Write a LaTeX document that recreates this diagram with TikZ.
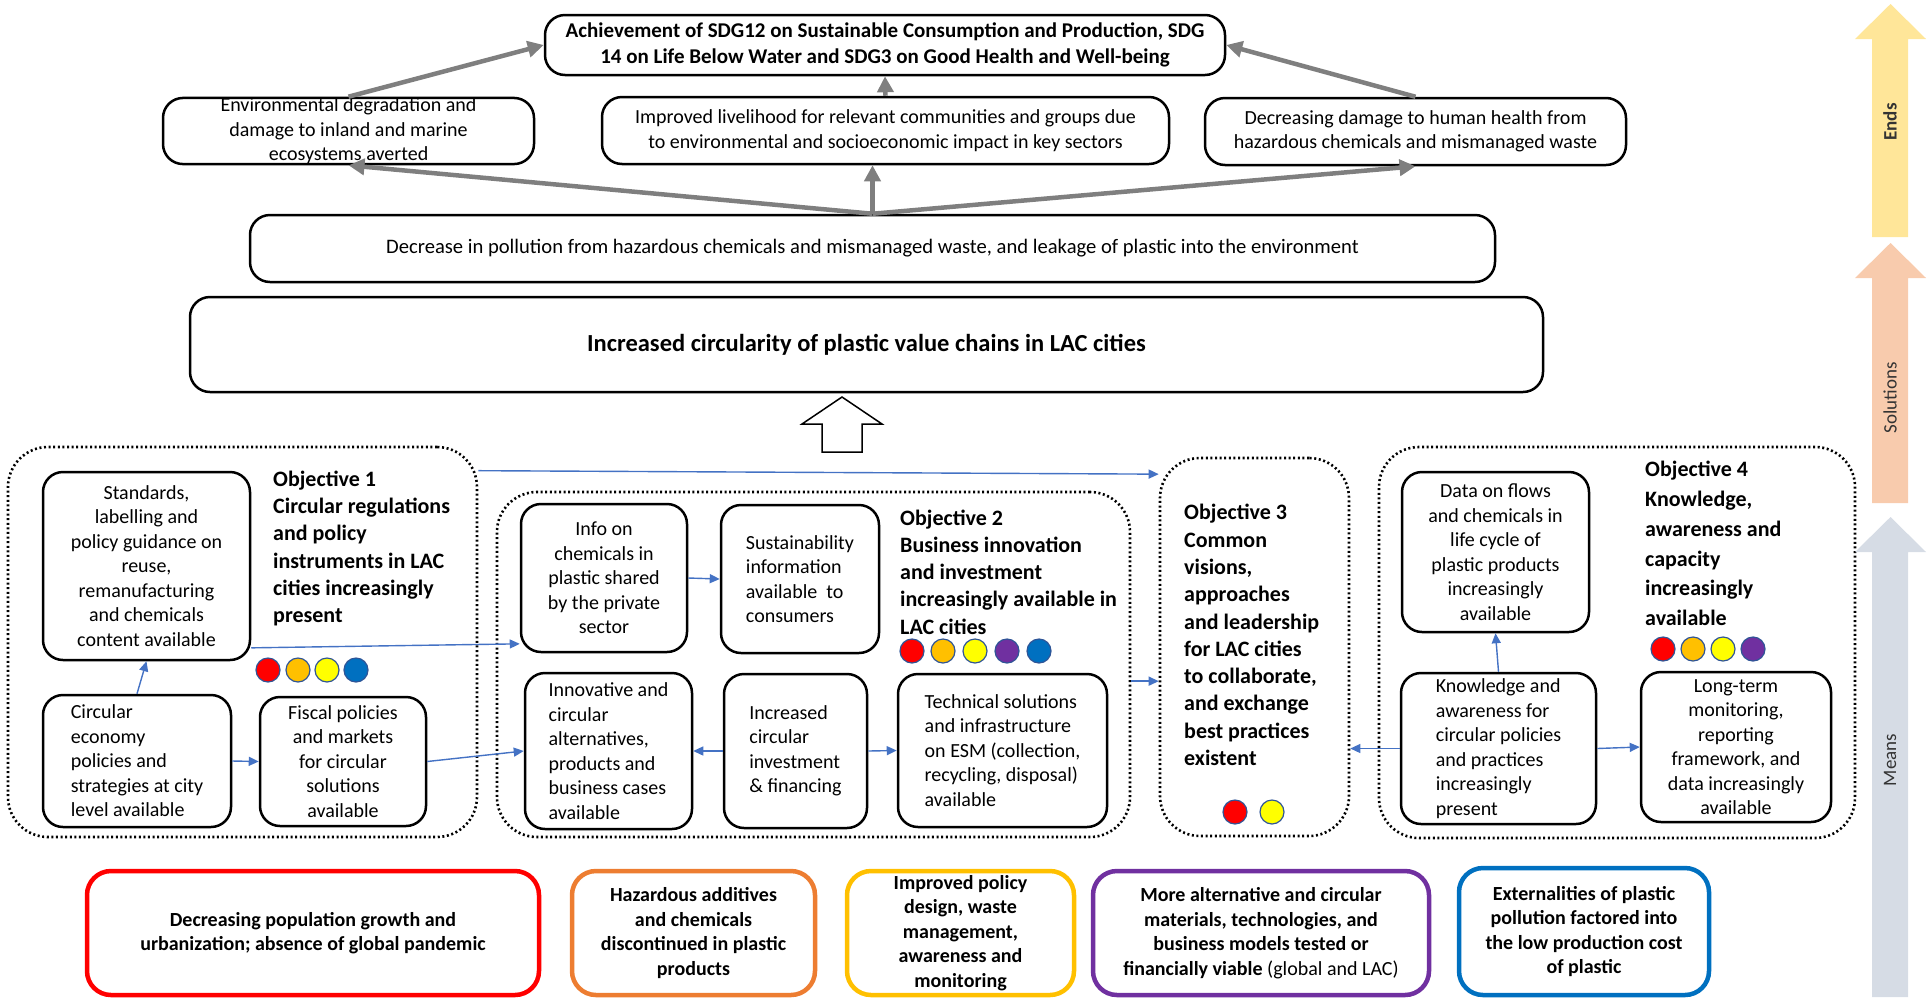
\documentclass[tikz,border=0pt]{standalone}
\usepackage{fontspec}
\setmainfont{Carlito}
\usepackage{tikz}
\usetikzlibrary{arrows.meta}
\definecolor{arrgray}{RGB}{127,127,127}
\definecolor{lnkblue}{RGB}{68,114,196}
\definecolor{rimblue}{RGB}{47,85,151}
\definecolor{orng}{RGB}{255,192,0}
\definecolor{ylw}{RGB}{255,255,0}
\definecolor{prpl}{RGB}{112,48,160}
\definecolor{blu}{RGB}{0,112,192}
\definecolor{facorng}{RGB}{237,125,49}
\definecolor{facylw}{RGB}{255,192,0}
\definecolor{endsc}{RGB}{255,230,153}
\definecolor{solc}{RGB}{248,203,173}
\definecolor{meanc}{RGB}{214,220,229}
\tikzstyle{box}=[draw,fill=white,rounded corners=20pt,line width=2.5pt,align=center,inner xsep=4pt,inner ysep=0pt,font=\fontsize{20}{24.5}\selectfont]
\tikzstyle{boxl}=[box,align=left]
\tikzstyle{grp}=[draw,dash pattern=on 2pt off 2.6pt,line width=2.6pt,rounded corners=40pt]
\tikzstyle{ttl}=[anchor=west,align=left,inner sep=0pt,font=\bfseries\fontsize{22}{27.3}\selectfont]
\tikzstyle{fac}=[draw,fill=white,rounded corners=24pt,line width=4.5pt,align=center,inner ysep=-12pt,minimum height=124pt,font=\bfseries\fontsize{20}{24.5}\selectfont]
\tikzstyle{bead}=[circle,draw=rimblue,line width=1.2pt,minimum size=24pt,inner sep=0pt]
\tikzstyle{big}=[-{Triangle[length=16pt,width=16pt]},line width=4.5pt,arrgray]
\tikzstyle{lnk}=[-{Triangle[length=10pt,width=9pt]},line width=1.4pt,lnkblue]
\tikzstyle{side}=[rotate=90,text=black!80,font=\fontsize{19}{22}\selectfont]

\begin{document}
\begin{tikzpicture}[x=1pt,y=-1pt]
\useasboundingbox (0,0) rectangle (1928,997);
% ends
\node[box,font=\bfseries\fontsize{21}{25.5}\selectfont,minimum width=680pt,minimum height=60pt] (sdg) at (885,45)
  {Achievement of SDG12 on Sustainable Consumption and Production, SDG\\ 14 on Life Below Water and SDG3 on Good Health and Well-being};
\node[box,minimum width=371pt,minimum height=66pt] (env) at (348.5,131)
  {Environmental degradation and\\ damage to inland and marine\\ ecosystems averted};
\node[box,minimum width=567pt,minimum height=67pt] (live) at (885.5,130.5)
  {Improved livelihood for relevant communities and groups due\\ to environmental and socioeconomic impact in key sectors};
\node[box,minimum width=421pt,minimum height=67pt] (hlth) at (1415.5,131.5)
  {Decreasing damage to human health from\\ hazardous chemicals and mismanaged waste};
\node[box,font=\fontsize{20.6}{24}\selectfont,minimum width=1245pt,minimum height=67pt] (decr) at (872.5,248.5)
  {Decrease in pollution from hazardous chemicals and mismanaged waste, and leakage of plastic into the environment};
\node[box,font=\bfseries\fontsize{24.5}{28}\selectfont,minimum width=1353pt,minimum height=95pt] (incr) at (866.5,344.5)
  {Increased circularity of plastic value chains in LAC cities};
\draw[big] (decr.north) -- (env.south);
\draw[big] (decr.north) -- (decr.north |- live.south);
\draw[big] (decr.north) -- (hlth.south);
\draw[big] (env.north) -- (sdg.west);
\draw[big] (live.north) -- (sdg.south);
\draw[big] (hlth.north) -- (sdg.east);
\draw[line width=1.5pt,fill=white] (822,452) -- (822,424) -- (802,424) -- (842,397) -- (882,424) -- (862,424) -- (862,452) -- cycle;

% objective 1
\node[grp,minimum width=469pt,minimum height=390pt] (obj1) at (242.5,642) {};
\node[box,minimum width=207pt,minimum height=188pt] (std) at (146.5,566)
  {Standards,\\ labelling and\\ policy guidance on\\ reuse,\\ remanufacturing\\ and chemicals\\ content available};
\node[boxl,minimum width=188pt,minimum height=132pt] (ceco) at (137,761)
  {Circular\\ economy\\ policies and\\ strategies at city\\ level available};
\node[box,minimum width=166pt,minimum height=129pt] (fisc) at (343,761.5)
  {Fiscal policies\\ and markets\\ for circular\\ solutions\\ available};
\node[ttl] (t1) at (273,548.5) {Objective 1\\ Circular regulations\\ and policy\\ instruments in LAC\\ cities increasingly\\ present};
\foreach \x/\c in {268/red,298/orng,327/ylw,356/blu}
  \node[bead,fill=\c] (ba\x) at (\x,670) {};

% objective 2
\node[grp,minimum width=633pt,minimum height=345pt] (obj2) at (813.5,664.5) {};
\node[box,minimum width=166pt,minimum height=148pt] (info) at (604,578)
  {Info on\\ chemicals in\\ plastic shared\\ by the private\\ sector};
\node[boxl,minimum width=158pt,minimum height=148pt] (sust) at (800,579)
  {Sustainability\\ information\\ available\ \ to\\ consumers};
\node[boxl,minimum width=167pt,minimum height=156pt] (innv) at (608.5,751)
  {Innovative and\\ circular\\ alternatives,\\ products and\\ business cases\\ available};
\node[boxl,minimum width=143pt,minimum height=154pt] (invs) at (795.5,751)
  {Increased\\ circular\\ investment\\ \& financing};
\node[boxl,minimum width=209pt,minimum height=153pt] (tech) at (1002.5,750.5)
  {Technical solutions\\ and infrastructure\\ on ESM (collection,\\ recycling, disposal)\\ available};
\node[ttl] (t2) at (900,572) {Objective 2\\ Business innovation\\ and investment\\ increasingly available in\\ LAC cities};
\foreach \x/\c in {912/red,943/orng,975/ylw,1007/prpl,1039/blu}
  \node[bead,fill=\c] (bb\x) at (\x,651) {};

% objective 3
\node[grp,minimum width=189pt,minimum height=378pt] (obj3) at (1254.5,647) {};
\node[ttl] (t3) at (1184,635) {Objective 3\\ Common\\ visions,\\ approaches\\ and leadership\\ for LAC cities\\ to collaborate,\\ and exchange\\ best practices\\ existent};
\foreach \x/\c in {1235/red,1272/ylw}
  \node[bead,fill=\c] (bc\x) at (\x,812) {};

% objective 4
\node[grp,minimum width=476pt,minimum height=391pt] (obj4) at (1617,642.5) {};
\node[box,minimum width=187pt,minimum height=160pt] (data) at (1495.5,552)
  {Data on flows\\ and chemicals in\\ life cycle of\\ plastic products\\ increasingly\\ available};
\node[boxl,minimum width=195pt,minimum height=151pt] (know) at (1498.5,748.5)
  {Knowledge and\\ awareness for\\ circular policies\\ and practices\\ increasingly\\ present};
\node[box,minimum width=190pt,minimum height=150pt] (long) at (1736,747)
  {Long-term\\ monitoring,\\ reporting\\ framework, and\\ data increasingly\\ available};
\node[ttl,font=\bfseries\fontsize{22}{29.8}\selectfont] (t4) at (1645,543.5) {Objective 4\\ Knowledge,\\ awareness and\\ capacity\\ increasingly\\ available};
\foreach \x/\c in {1663/red,1693/orng,1723/ylw,1753/prpl}
  \node[bead,fill=\c] (bd\x) at (\x,649) {};

% links
\draw[lnk] (ceco.north) -- (std.south);
\draw[lnk] (ceco.east) -- (fisc.west);
\draw[lnk] (std.-38) -- (info.218);
\draw[lnk] (fisc.east) -- (innv.west);
\draw[lnk] (info.east) -- (sust.west);
\draw[lnk] (invs.west) -- (innv.east);
\draw[lnk] (invs.east) -- (tech.west);
\draw[lnk] (obj1.36) -- (obj3.119);
\draw[lnk] (obj2.-3) -- (obj2.-3 -| obj3.west);
\draw[lnk] (know.north) -- (data.south);
\draw[lnk] (know.west) -- (know.west -| obj3.east);
\draw[lnk] (know.east) -- (long.west);

% assumptions
\node[fac,draw=red,minimum width=452pt] (f1) at (313,933)
  {Decreasing population growth and\\ urbanization; absence of global pandemic};
\node[fac,draw=facorng,minimum width=243pt] (f2) at (693.5,933)
  {Hazardous additives\\ and chemicals\\ discontinued in plastic\\ products};
\node[fac,draw=facylw,minimum width=227pt] (f3) at (960.5,933)
  {Improved policy\\ design, waste\\ management,\\ awareness and\\ monitoring};
\node[fac,draw=prpl,minimum width=336pt] (f4) at (1261,933)
  {More alternative and circular\\ materials, technologies, and\\ business models tested or\\ financially viable {\mdseries (global and LAC)}};
\node[fac,draw=blu,minimum width=250pt,minimum height=127pt] (f5) at (1584,931.5)
  {Externalities of plastic\\ pollution factored into\\ the low production cost\\ of plastic};

% side arrows
\fill[endsc] (1872,237) -- (1872,39) -- (1855,39) -- (1890.5,4) -- (1926,39) -- (1908,39) -- (1908,237) -- cycle;
\fill[solc] (1872,503) -- (1872,278) -- (1855,278) -- (1890.5,243) -- (1926,278) -- (1908,278) -- (1908,503) -- cycle;
\fill[meanc] (1872,997) -- (1872,552) -- (1855,552) -- (1890.5,517) -- (1926,552) -- (1908,552) -- (1908,997) -- cycle;
\node[side,font=\bfseries\fontsize{19}{22}\selectfont] (ends) at (1890,122) {Ends};
\node[side] (sols) at (1890,398) {Solutions};
\node[side] (mns) at (1890,760) {Means};
\end{tikzpicture}
\end{document}
